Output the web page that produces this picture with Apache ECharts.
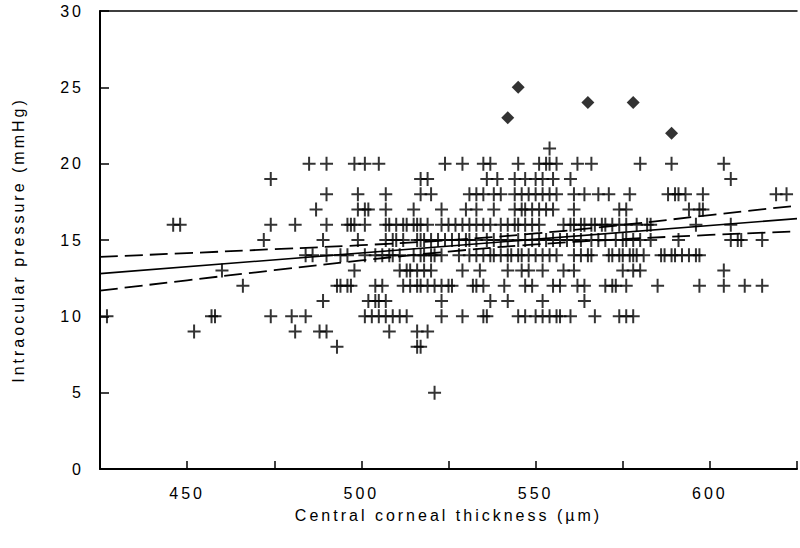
<!DOCTYPE html>
<html>
<head>
<meta charset="utf-8">
<script src="https://cdn.jsdelivr.net/npm/echarts@6/dist/echarts.min.js"></script>
<style>
  html, body { margin: 0; padding: 0; background: #fff; }
  #chart { width: 800px; height: 548px; }
  #chart svg text { letter-spacing: 3px; }
</style>
</head>
<body>
<div id="chart"></div>
<script>
// Central corneal thickness (µm) of each eye, grouped by its intraocular pressure (mmHg)
const iop21 = [554];
const iop20 = [485, 490, 498, 501, 505, 524, 529, 535, 537, 545, 551, 553, 554, 556, 562, 566, 580, 589, 604];
const iop19 = [474, 517, 519, 536, 539, 544, 547, 550, 552, 555, 560, 606];
const iop18 = [490, 499, 507, 517, 520, 531, 533, 535, 538, 540, 544, 546, 548, 550, 552, 554, 556, 561, 564, 568, 571, 577, 588, 590, 591, 593, 598, 619, 622];
const iop17 = [487, 499, 501, 502, 507, 515, 523, 530, 533, 538, 544, 546, 547, 549, 551, 553, 555, 561, 574, 576, 594, 597, 598];
const iop16 = [446, 448, 474, 481, 490, 496, 497, 498, 501, 507, 508, 510, 512, 513, 515, 516, 517, 519, 523, 525, 527, 529, 531, 533, 535, 537, 540, 542, 544, 545, 547, 549, 551, 558, 560, 561, 563, 564, 566, 567, 569, 570, 572, 574, 576, 579, 582, 583, 596, 606];
const iop15 = [472, 489, 499, 507, 509, 510, 512, 516, 517, 518, 520, 522, 524, 526, 528, 530, 531, 533, 536, 538, 540, 542, 545, 547, 549, 551, 553, 555, 557, 559, 561, 563, 566, 568, 570, 573, 575, 576, 578, 580, 583, 591, 606, 608, 609, 615];
const iop14 = [484, 486, 490, 494, 496, 501, 504, 506, 508, 509, 511, 515, 517, 518, 520, 521, 523, 528, 531, 533, 535, 537, 538, 540, 542, 543, 545, 546, 548, 550, 552, 554, 556, 561, 563, 565, 566, 571, 572, 574, 575, 577, 578, 579, 581, 586, 587, 589, 590, 592, 594, 596, 597];
const iop13 = [460, 498, 511, 513, 514, 516, 518, 520, 529, 534, 542, 546, 548, 552, 558, 561, 575, 578, 580, 604];
const iop12 = [466, 493, 494, 496, 497, 504, 506, 512, 514, 516, 517, 519, 521, 523, 525, 526, 532, 533, 535, 541, 547, 549, 555, 557, 562, 564, 570, 572, 573, 576, 585, 597, 604, 610, 615];
const iop11 = [489, 502, 504, 505, 507, 523, 537, 542, 552, 564];
const iop10 = [427, 457, 458, 474, 480, 484, 501, 503, 505, 507, 509, 511, 513, 523, 529, 535, 536, 545, 547, 550, 552, 554, 556, 557, 560, 567, 574, 576, 578];
const iop9 = [452, 481, 488, 490, 508, 516, 519];
const iop8 = [493, 516, 517];
const iop5 = [521];

const pressureLevels = [21, 20, 19, 18, 17, 16, 15, 14, 13, 12, 11, 10, 9, 8, 5];
const thicknessByLevel = [iop21, iop20, iop19, iop18, iop17, iop16, iop15, iop14, iop13, iop12, iop11, iop10, iop9, iop8, iop5];

// Eyes flagged separately (filled diamonds)
const outlierCCT = [542, 545, 565, 578, 589];
const outlierIOP = [23, 25, 24, 24, 22];

// Regression line and its 95% confidence limits
const fitCCT = [425, 625];
const fitIOP = [12.8, 16.4];
const bandCCT = [425, 450, 475, 500, 525, 550, 575, 600, 625];
const bandUpper = [13.9, 14.14, 14.4, 14.66, 14.99, 15.43, 15.99, 16.63, 17.25];
const bandLower = [11.68, 12.36, 13.02, 13.66, 14.24, 14.71, 15.05, 15.33, 15.56];

// Axis ranges and labelled ticks
const xRange = [425, 625];
const xLabelled = [450, 500, 550, 600];
const yRange = [0, 30];

const plusPoints = [];
pressureLevels.forEach((p, i) => thicknessByLevel[i].forEach(t => plusPoints.push([t, p])));
const diamondPoints = outlierCCT.map((t, i) => [t, outlierIOP[i]]);
const pair = (xs, ys) => xs.map((x, i) => [x, ys[i]]);

const FONT = 'Liberation Sans, Arial, Helvetica, sans-serif';
const INK = '#000';

const chart = echarts.init(document.getElementById('chart'), null, { renderer: 'svg' });
chart.setOption({
  animation: false,
  backgroundColor: '#fff',
  grid: { left: 100, right: 0, top: 11, bottom: 79 },
  xAxis: [{
    type: 'value',
    min: xRange[0], max: xRange[1], interval: 25,
    name: 'Central corneal thickness (µm)',
    nameLocation: 'middle', nameGap: 38,
    nameTextStyle: { fontFamily: FONT, fontSize: 16, color: INK },
    axisLine: { lineStyle: { color: INK, width: 2 } },
    axisTick: { inside: true, length: 8, lineStyle: { color: INK, width: 1.5 } },
    axisLabel: {
      fontFamily: FONT, fontSize: 16, color: INK, margin: 16,
      formatter: v => xLabelled.indexOf(v) >= 0 ? String(v) : ''
    },
    splitLine: { show: false }
  }, {
    type: 'value', position: 'top',
    min: xRange[0], max: xRange[1],
    axisLine: { lineStyle: { color: INK, width: 1.5 } },
    axisTick: { show: false }, axisLabel: { show: false }, splitLine: { show: false }
  }],
  yAxis: {
    type: 'value',
    min: yRange[0], max: yRange[1], interval: 5,
    name: 'Intraocular pressure (mmHg)',
    nameLocation: 'middle', nameGap: 74, nameRotate: 90,
    nameTextStyle: { fontFamily: FONT, fontSize: 16, color: INK },
    axisLine: { lineStyle: { color: INK, width: 2 } },
    axisTick: { inside: true, length: 9, lineStyle: { color: INK, width: 1.5 } },
    axisLabel: { fontFamily: FONT, fontSize: 16, color: INK, margin: 16 },
    splitLine: { show: false }
  },
  series: [
    {
      type: 'scatter',
      data: plusPoints,
      symbol: 'path://M0,6h13v2H0z M5.5,0h2v14h-2z',
      symbolSize: [13, 14],
      itemStyle: { color: INK },
      silent: true
    },
    {
      type: 'scatter',
      data: diamondPoints,
      symbol: 'diamond',
      symbolSize: 13,
      itemStyle: { color: INK },
      silent: true
    },
    {
      type: 'line',
      data: pair(fitCCT, fitIOP),
      symbol: 'none',
      lineStyle: { color: INK, width: 1.6 },
      silent: true
    },
    {
      type: 'line',
      data: pair(bandCCT, bandUpper),
      smooth: true, symbol: 'none',
      lineStyle: { color: INK, width: 1.8, type: [18, 7] },
      silent: true
    },
    {
      type: 'line',
      data: pair(bandCCT, bandLower),
      smooth: true, symbol: 'none',
      lineStyle: { color: INK, width: 1.8, type: [18, 7] },
      silent: true
    }
  ]
});
</script>
</body>
</html>
